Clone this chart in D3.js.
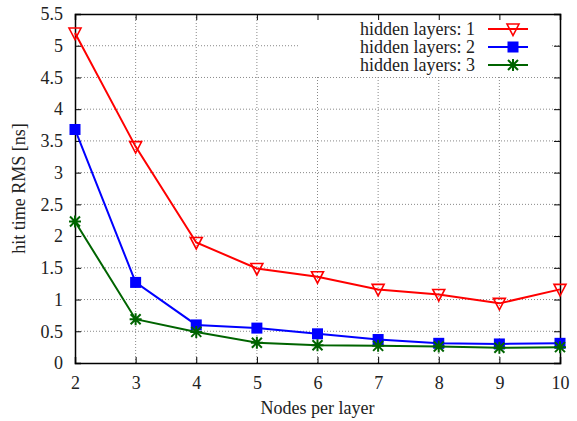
<!DOCTYPE html>
<html>
<head>
<meta charset="utf-8">
<script src="https://cdn.jsdelivr.net/npm/d3@7"></script>
<style>
  body { margin: 0; background: #fff; }
  svg text { font-family: "Liberation Serif", "Times New Roman", serif; fill: #222; }
</style>
</head>
<body>
<div id="chart"></div>
<script>
// data
var nodes = [2, 3, 4, 5, 6, 7, 8, 9, 10];
var layers1 = [5.20, 3.41, 1.90, 1.49, 1.36, 1.16, 1.08, 0.94, 1.16];
var layers2 = [3.68, 1.27, 0.60, 0.55, 0.46, 0.37, 0.31, 0.30, 0.31];
var layers3 = [2.23, 0.69, 0.49, 0.32, 0.28, 0.27, 0.26, 0.24, 0.25];
var seriesNames = ["hidden layers: 1", "hidden layers: 2", "hidden layers: 3"];
var yTicks = [0, 0.5, 1, 1.5, 2, 2.5, 3, 3.5, 4, 4.5, 5, 5.5];

var W = 577, H = 421;
var m = {top: 14, right: 17, bottom: 58, left: 75};
var serif = '"Liberation Serif", "Times New Roman", serif';

var svg = d3.select("#chart").append("svg")
    .attr("width", W)
    .attr("height", H)
    .attr("font-family", serif);

var x = d3.scaleLinear().domain([2, 10]).range([m.left, W - m.right]);
var y = d3.scaleLinear().domain([0, 5.5]).range([H - m.bottom, m.top]);

// grid
var grid = svg.append("g");
grid.selectAll(".gx")
    .data(nodes.slice(1, -1))
    .join("line")
    .attr("x1", d => x(d)).attr("x2", d => x(d))
    .attr("y1", y(0)).attr("y2", y(5.5))
    .attr("stroke", "#888").attr("stroke-width", 1).attr("stroke-dasharray", "1,2");
grid.selectAll(".gy")
    .data(yTicks.slice(1, -1))
    .join("line")
    .attr("y1", d => y(d)).attr("y2", d => y(d))
    .attr("x1", x(2)).attr("x2", x(10))
    .attr("stroke", "#888").attr("stroke-width", 1).attr("stroke-dasharray", "1,2");

// legend box background hides the grid behind it
svg.append("rect")
    .attr("x", 300).attr("y", y(5.5) + 1)
    .attr("width", 251).attr("height", 62)
    .attr("fill", "#fff");

// axes, ticks inward on all four sides
var tickLen = 6;
svg.append("g")
    .attr("transform", "translate(0," + y(0) + ")")
    .call(d3.axisBottom(x).tickValues(nodes).tickSize(-tickLen).tickPadding(13).tickFormat(d3.format("d")));
svg.append("g")
    .attr("transform", "translate(0," + y(5.5) + ")")
    .call(d3.axisTop(x).tickValues(nodes).tickSize(-tickLen).tickFormat(""));
svg.append("g")
    .attr("transform", "translate(" + x(2) + ",0)")
    .call(d3.axisLeft(y).tickValues(yTicks).tickSize(-tickLen).tickPadding(12).tickFormat(d3.format("")));
svg.append("g")
    .attr("transform", "translate(" + x(10) + ",0)")
    .call(d3.axisRight(y).tickValues(yTicks).tickSize(-tickLen).tickFormat(""));

svg.selectAll(".domain").attr("stroke", "#000").attr("stroke-width", 1.5);
svg.selectAll(".tick line").attr("stroke", "#000");
svg.selectAll("g").attr("font-family", serif).attr("font-size", 18);
svg.selectAll(".tick text").attr("fill", "#222");

// axis labels
svg.append("text")
    .attr("x", (x(2) + x(10)) / 2)
    .attr("y", 414)
    .attr("text-anchor", "middle")
    .attr("font-size", 18)
    .text("Nodes per layer");
svg.append("text")
    .attr("transform", "translate(25," + ((y(0) + y(5.5)) / 2) + ") rotate(-90)")
    .attr("text-anchor", "middle")
    .attr("font-size", 18)
    .text("hit time RMS [ns]");

var series = [
  {name: seriesNames[0], values: layers1, color: "#ff0000", marker: "tri"},
  {name: seriesNames[1], values: layers2, color: "#0000ff", marker: "square"},
  {name: seriesNames[2], values: layers3, color: "#006400", marker: "star"}
];

function drawMarker(g, type, color) {
  if (type == "tri") {
    g.append("path").attr("d", "M-6,-5L6,-5L0,6.5Z")
      .attr("fill", "none").attr("stroke", color).attr("stroke-width", 1.6);
  } else if (type == "square") {
    g.append("rect").attr("x", -5.5).attr("y", -5.5).attr("width", 11).attr("height", 11)
      .attr("fill", color);
  } else {
    g.append("path").attr("d", "M-6,0L6,0M0,-6L0,6M-5,-5L5,5M-5,5L5,-5")
      .attr("stroke", color).attr("stroke-width", 2).attr("fill", "none");
  }
}

var line = d3.line().x((d, i) => x(nodes[i])).y(d => y(d));

series.forEach(function(s) {
  svg.append("path")
    .datum(s.values)
    .attr("d", line)
    .attr("fill", "none")
    .attr("stroke", s.color)
    .attr("stroke-width", 2);
  s.values.forEach(function(v, i) {
    var g = svg.append("g").attr("transform", "translate(" + x(nodes[i]) + "," + y(v) + ")");
    drawMarker(g, s.marker, s.color);
  });
});

// legend
series.forEach(function(s, i) {
  var ly = 29 + i * 18;
  svg.append("text")
    .attr("x", 475).attr("y", ly + 6)
    .attr("text-anchor", "end")
    .attr("font-size", 18)
    .text(s.name);
  svg.append("line")
    .attr("x1", 488).attr("x2", 528)
    .attr("y1", ly).attr("y2", ly)
    .attr("stroke", s.color).attr("stroke-width", 2);
  var g = svg.append("g").attr("transform", "translate(513," + ly + ")");
  drawMarker(g, s.marker, s.color);
});
</script>
</body>
</html>
